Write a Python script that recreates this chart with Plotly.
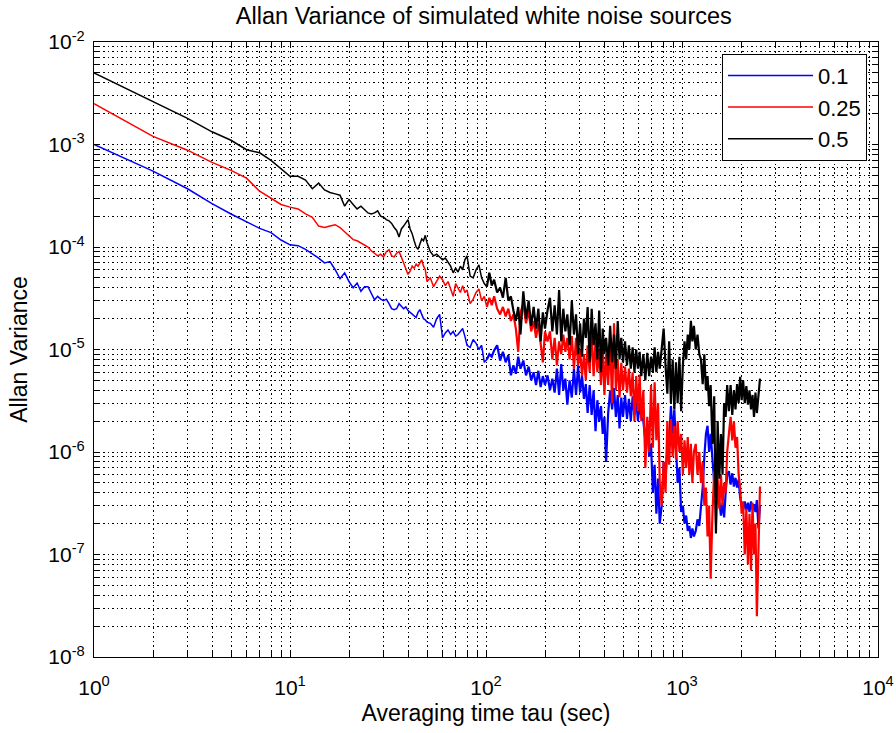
import plotly.graph_objects as go

# Averaging times (s) shared by all three runs
tau = [
    1, 2, 3, 4, 5, 6, 7, 8, 9, 10, 11, 12, 13, 14, 15, 16, 17, 18, 19, 20,
    21, 22, 23, 24, 25, 26, 27, 28, 29,
    30, 31, 32, 33, 34, 35, 36, 37, 38, 39, 40, 41, 42, 43, 44, 45, 46, 47, 48, 49, 50,
    52, 54, 56, 58, 60, 62, 64, 66, 68, 70, 72, 74, 76, 78, 80,
    83, 86, 89, 92, 95, 98, 101, 104, 107, 110,
    114, 118, 122, 126, 130, 134, 138, 142, 146, 150,
    155, 160, 165, 170, 175, 180, 185, 190, 195, 200,
    206, 212, 218, 224, 230, 236, 242, 248, 254, 260,
    267, 274, 281, 288, 295, 302, 309, 316, 323, 330,
    338, 346, 354, 362, 370, 378, 386, 394, 402, 410,
    420, 430, 440, 450, 460, 470, 480, 490, 500,
    512, 524, 536, 548, 560, 572, 584, 596, 608, 620,
    635, 650, 665, 680, 695, 710, 725, 740, 755, 770,
    788, 806, 824, 842, 860, 878, 896, 914, 932, 950,
    970, 990, 1010, 1030, 1050, 1070, 1090, 1110, 1130, 1150,
    1175, 1200, 1225, 1250, 1275, 1300, 1325, 1350, 1375, 1400,
    1430, 1460, 1490, 1520, 1550, 1580, 1610, 1640, 1670, 1700,
    1735, 1770, 1805, 1840, 1875, 1910, 1945, 1980, 2015, 2050,
    2090, 2130, 2170, 2210, 2250, 2290, 2330, 2370, 2410, 2455, 2500,
]

# Allan variance, noise level 0.1
avar_01 = [
    1.0e-3, 5.5e-4, 3.7e-4, 2.65e-4, 2.1e-4, 1.77e-4, 1.52e-4, 1.38e-4, 1.17e-4, 1.05e-4,
    1.03e-4, 9.5e-5, 8.6e-5, 7.8e-5, 7.0e-5, 7.2e-5, 6.0e-5, 4.9e-5, 5.6e-5, 4.6e-5,
    4.0e-5, 4.45e-5, 3.7e-5, 4.1e-5, 4.1e-5, 3.5e-5, 3.05e-5, 3.3e-5, 3.1e-5,
    3.0e-5, 3.1e-5, 2.8e-5, 2.5e-5, 2.45e-5, 2.5e-5, 2.8e-5, 2.65e-5, 2.5e-5, 2.6e-5,
    2.4e-5, 2.3e-5, 2.2e-5, 2.1e-5, 2.05e-5, 2.3e-5, 2.45e-5, 2.2e-5, 2.0e-5, 1.95e-5, 1.85e-5,
    1.8e-5, 1.65e-5, 2.0e-5, 2.2e-5, 1.3e-5, 1.45e-5, 1.55e-5, 1.4e-5, 1.5e-5, 1.35e-5,
    1.4e-5, 1.5e-5, 1.6e-5, 1.35e-5, 1.1e-5,
    1.05e-5, 1.25e-5, 1.15e-5, 1.0e-5, 1.1e-5, 7.5e-6, 8.0e-6, 9.0e-6, 8.5e-6, 9.8e-6,
    1.1e-5, 7.8e-6, 9.5e-6, 7.5e-6, 8.8e-6, 5.6e-6, 7.0e-6, 5.8e-6, 8.5e-6, 6.5e-6,
    7.8e-6, 5.6e-6, 6.8e-6, 5.0e-6, 6.0e-6, 4.5e-6, 6.2e-6, 4.3e-6, 5.5e-6, 4.5e-6,
    5.6e-6, 4.0e-6, 5.2e-6, 3.8e-6, 6.5e-6, 3.6e-6, 7.2e-6, 4.0e-6, 5.2e-6, 2.9e-6,
    5.0e-6, 3.4e-6, 6.5e-6, 3.6e-6, 7.0e-6, 3.8e-6, 5.6e-6, 3.3e-6, 4.6e-6, 2.4e-6,
    4.5e-6, 2.3e-6, 4.0e-6, 1.6e-6, 3.2e-6, 2.0e-6, 2.8e-6, 1.5e-6, 2.2e-6, 8.0e-7,
    2.4e-6, 4.0e-6, 2.6e-6, 4.2e-6, 2.2e-6, 3.6e-6, 1.7e-6, 3.4e-6, 2.2e-6,
    3.6e-6, 2.1e-6, 3.3e-6, 2.0e-6, 3.5e-6, 2.3e-6, 3.2e-6, 2.0e-6, 3.0e-6, 2.2e-6,
    2.0e-6, 1.3e-6, 1.9e-6, 9.0e-7, 1.2e-6, 4.0e-7, 7.5e-7, 2.5e-7, 5.5e-7, 2.0e-7,
    3.0e-7, 8.0e-7, 5.5e-7, 1.1e-6, 1.3e-6, 2.8e-6, 1.5e-6, 2.6e-6, 9.0e-7, 5.0e-7,
    7.0e-7, 2.6e-7, 3.0e-7, 2.0e-7, 2.4e-7, 1.7e-7, 1.9e-7, 1.45e-7, 1.8e-7, 1.5e-7,
    1.7e-7, 2.2e-7, 1.9e-7, 2.8e-7, 4.5e-7, 9.0e-7, 1.5e-6, 1.8e-6, 1.0e-6, 1.5e-6,
    8.0e-7, 5.0e-7, 6.5e-7, 4.5e-7, 3.5e-7, 2.4e-7, 3.2e-7, 2.3e-7, 4.0e-7, 6.0e-7,
    6.5e-7, 4.8e-7, 6.2e-7, 4.6e-7, 5.6e-7, 4.5e-7, 5.4e-7, 3.6e-7, 3.0e-7, 2.7e-7,
    3.3e-7, 2.7e-7, 3.2e-7, 2.6e-7, 3.3e-7, 2.7e-7, 3.1e-7, 2.6e-7, 3.4e-7, 1.8e-7, 3.0e-7,
]

# Allan variance, noise level 0.25
avar_025 = [
    2.5e-3, 1.2e-3, 8.8e-4, 6.7e-4, 5.6e-4, 4.7e-4, 3.5e-4, 3.0e-4, 2.6e-4, 2.45e-4,
    2.35e-4, 2.1e-4, 1.95e-4, 1.6e-4, 1.55e-4, 1.6e-4, 1.65e-4, 1.55e-4, 1.4e-4, 1.27e-4,
    1.18e-4, 1.15e-4, 1.1e-4, 1.05e-4, 1.0e-4, 9.2e-5, 8.6e-5, 8.2e-5, 8.5e-5,
    8.0e-5, 9.0e-5, 9.4e-5, 8.2e-5, 8.0e-5, 8.7e-5, 9.0e-5, 8.0e-5, 7.0e-5, 6.0e-5,
    5.4e-5, 5.8e-5, 6.5e-5, 6.2e-5, 6.8e-5, 6.5e-5, 7.0e-5, 7.5e-5, 6.5e-5, 6.0e-5, 4.6e-5,
    5.0e-5, 4.1e-5, 4.6e-5, 5.2e-5, 4.8e-5, 4.2e-5, 4.6e-5, 3.9e-5, 3.3e-5, 4.4e-5,
    4.0e-5, 3.6e-5, 4.2e-5, 3.6e-5, 3.8e-5,
    2.8e-5, 3.1e-5, 3.6e-5, 3.9e-5, 3.0e-5, 3.3e-5, 2.6e-5, 3.2e-5, 2.7e-5, 3.3e-5,
    2.5e-5, 2.2e-5, 2.6e-5, 2.1e-5, 2.5e-5, 1.9e-5, 2.2e-5, 1.6e-5, 9.5e-6, 2.3e-5,
    2.8e-5, 1.8e-5, 2.4e-5, 1.5e-5, 1.9e-5, 1.3e-5, 1.8e-5, 1.1e-5, 7.5e-6, 1.5e-5,
    1.2e-5, 1.5e-5, 8.0e-6, 1.3e-5, 7.0e-6, 1.2e-5, 9.0e-6, 1.4e-5, 9.5e-6, 1.3e-5,
    8.0e-6, 1.35e-5, 6.5e-6, 1.3e-5, 7.0e-6, 1.0e-5, 5.5e-6, 9.0e-6, 5.0e-6, 1.1e-5,
    6.0e-6, 1.5e-5, 5.5e-6, 1.2e-5, 6.0e-6, 1.0e-5, 4.5e-6, 1.05e-5, 3.6e-6, 9.0e-6,
    4.5e-6, 1.2e-5, 3.0e-6, 1.8e-5, 4.0e-6, 8.0e-6, 3.4e-6, 7.4e-6, 4.0e-6,
    6.8e-6, 3.8e-6, 6.5e-6, 3.5e-6, 6.0e-6, 2.0e-6, 5.5e-6, 2.5e-6, 5.7e-6, 2.0e-6,
    4.0e-6, 7.0e-7, 2.2e-6, 1.0e-6, 4.5e-6, 1.1e-6, 4.8e-6, 1.3e-6, 3.0e-6, 5.0e-7,
    3.0e-7, 8.0e-7, 4.0e-7, 2.0e-6, 7.5e-7, 2.1e-6, 9.0e-7, 1.8e-6, 8.5e-7, 2.0e-6,
    1.0e-6, 1.5e-6, 6.0e-7, 1.3e-6, 7.0e-7, 1.4e-6, 6.0e-7, 1.2e-6, 5.0e-7, 1.0e-6,
    1.2e-6, 6.0e-7, 1.0e-6, 5.0e-7, 8.0e-7, 3.0e-7, 4.5e-7, 1.5e-7, 3.0e-7, 5.8e-8,
    2.5e-7, 6.5e-7, 2.0e-7, 5.5e-7, 2.8e-7, 6.0e-7, 3.0e-7, 5.0e-7, 4.0e-7, 1.0e-6,
    1.5e-6, 2.2e-6, 1.3e-6, 2.0e-6, 1.1e-6, 1.4e-6, 6.0e-7, 4.5e-7, 2.5e-7, 3.3e-7,
    1.0e-7, 2.8e-7, 8.0e-8, 2.5e-7, 7.0e-8, 3.2e-7, 1.0e-7, 2.0e-7, 2.5e-8, 1.2e-7, 4.6e-7,
]

# Allan variance, noise level 0.5
avar_05 = [
    5.0e-3, 2.6e-3, 1.8e-3, 1.33e-3, 1.1e-3, 8.9e-4, 8.3e-4, 7.0e-4, 5.8e-4, 4.9e-4,
    4.9e-4, 4.5e-4, 3.7e-4, 4.2e-4, 3.6e-4, 3.4e-4, 3.3e-4, 3.2e-4, 2.5e-4, 2.9e-4,
    2.6e-4, 2.35e-4, 2.5e-4, 2.3e-4, 2.15e-4, 2.1e-4, 2.15e-4, 2.25e-4, 2.0e-4,
    1.95e-4, 1.85e-4, 1.8e-4, 1.7e-4, 1.55e-4, 1.45e-4, 1.25e-4, 1.5e-4, 1.6e-4, 1.75e-4,
    1.85e-4, 1.5e-4, 1.35e-4, 1.15e-4, 1.0e-4, 9.5e-5, 1.1e-4, 1.2e-4, 1.15e-4, 1.3e-4, 1.1e-4,
    9.0e-5, 8.2e-5, 8.5e-5, 8.0e-5, 7.5e-5, 7.8e-5, 7.2e-5, 6.5e-5, 5.6e-5, 6.2e-5,
    5.7e-5, 6.5e-5, 6.0e-5, 7.5e-5, 8.2e-5,
    5.2e-5, 5.0e-5, 6.0e-5, 6.7e-5, 5.0e-5, 4.4e-5, 4.1e-5, 5.6e-5, 4.2e-5, 4.8e-5,
    3.6e-5, 4.0e-5, 3.2e-5, 5.0e-5, 3.0e-5, 3.3e-5, 2.4e-5, 1.9e-5, 2.6e-5, 1.4e-5,
    3.7e-5, 2.0e-5, 3.0e-5, 1.7e-5, 2.6e-5, 1.6e-5, 2.5e-5, 1.2e-5, 2.3e-5, 1.6e-5,
    2.4e-5, 3.2e-5, 1.5e-5, 2.7e-5, 1.4e-5, 3.8e-5, 1.2e-5, 2.5e-5, 1.5e-5, 2.2e-5,
    1.1e-5, 3.0e-5, 1.4e-5, 2.2e-5, 9.0e-6, 1.8e-5, 8.5e-6, 2.0e-5, 1.3e-5, 2.6e-5,
    7.5e-6, 2.5e-5, 1.1e-5, 1.8e-5, 8.0e-6, 2.4e-5, 6.0e-6, 1.6e-5, 9.0e-6, 1.3e-5,
    7.0e-6, 1.7e-5, 7.5e-6, 1.4e-5, 6.5e-6, 1.9e-5, 8.0e-6, 1.3e-5, 7.5e-6,
    1.2e-5, 7.0e-6, 1.1e-5, 6.5e-6, 1.05e-5, 6.0e-6, 1.0e-5, 6.5e-6, 9.5e-6, 5.5e-6,
    9.0e-6, 5.0e-6, 9.3e-6, 5.5e-6, 8.5e-6, 6.0e-6, 1.05e-5, 6.0e-6, 9.5e-6, 6.5e-6,
    1.0e-5, 1.6e-5, 7.0e-6, 3.7e-6, 1.2e-5, 3.0e-6, 8.0e-6, 2.6e-6, 7.5e-6, 3.0e-6,
    8.5e-6, 2.5e-6, 7.0e-6, 1.2e-5, 8.0e-6, 1.4e-5, 1.0e-5, 1.9e-5, 1.2e-5, 1.7e-5,
    1.0e-5, 1.4e-5, 9.0e-6, 8.0e-6, 4.6e-6, 9.0e-6, 4.0e-6, 5.5e-6, 2.8e-6, 4.5e-6,
    1.2e-6, 3.5e-6, 1.6e-7, 2.0e-6, 5.5e-7, 1.5e-6, 6.0e-7, 3.0e-6, 2.2e-6, 4.5e-6,
    2.5e-6, 4.5e-6, 2.3e-6, 4.0e-6, 2.6e-6, 4.6e-6, 3.0e-6, 5.4e-6, 3.2e-6, 5.0e-6,
    3.0e-6, 4.4e-6, 2.9e-6, 4.0e-6, 2.6e-6, 3.6e-6, 2.2e-6, 3.8e-6, 2.4e-6, 3.3e-6, 5.2e-6,
]

series_names = ["0.1", "0.25", "0.5"]
series_colors = ["#0000ff", "#ff0000", "#000000"]

# Decade tick labels
x_decades = [1, 10, 100, 1000, 10000]
x_decade_labels = ["10<sup>0</sup>", "10<sup>1</sup>", "10<sup>2</sup>",
                   "10<sup>3</sup>", "10<sup>4</sup>"]
y_decades = [1e-8, 1e-7, 1e-6, 1e-5, 1e-4, 1e-3, 1e-2]
y_decade_labels = ["10<sup>-8</sup>", "10<sup>-7</sup>", "10<sup>-6</sup>",
                   "10<sup>-5</sup>", "10<sup>-4</sup>", "10<sup>-3</sup>",
                   "10<sup>-2</sup>"]

# Averaging time beyond which the curves are drawn as a dense noisy band
DENSE_FROM = 100


def log_ticks(decades, labels):
    """Ticks at 1..9 x each decade; only the decades carry a label."""
    vals, texts = [], []
    for i, (d, lab) in enumerate(zip(decades, labels)):
        vals.append(d)
        texts.append(lab)
        if i < len(decades) - 1:
            for k in range(2, 10):
                vals.append(k * d)
                texts.append("")
    return vals, texts


xt_vals, xt_text = log_ticks(x_decades, x_decade_labels)
yt_vals, yt_text = log_ticks(y_decades, y_decade_labels)

FONT = "Liberation Sans, Arial, sans-serif"

split = next(i for i, t in enumerate(tau) if t >= DENSE_FROM)

fig = go.Figure()
for name, color, yv in zip(series_names, series_colors, [avar_01, avar_025, avar_05]):
    # low-tau part: thin smooth line
    fig.add_trace(go.Scatter(
        x=tau[:split + 1], y=yv[:split + 1], mode="lines", name=name,
        legendgroup=name, line=dict(color=color, width=1.5),
    ))
    # high-tau part: same series, heavier stroke for the dense scatter
    fig.add_trace(go.Scatter(
        x=tau[split:], y=yv[split:], mode="lines", name=name,
        legendgroup=name, showlegend=False, line=dict(color=color, width=2.2),
    ))

axis_common = dict(
    type="log",
    showline=True, linecolor="#000000", linewidth=1.2, mirror="allticks",
    ticks="inside", ticklen=6, tickcolor="#000000", tickwidth=1,
    showgrid=True, gridcolor="#000000", gridwidth=1, griddash="1.5px,3px",
    zeroline=False,
    tickfont=dict(family=FONT, size=21, color="#000000"),
    title_font=dict(family=FONT, size=23, color="#000000"),
)

fig.update_xaxes(
    **axis_common,
    range=[0, 4],
    tickmode="array", tickvals=xt_vals, ticktext=xt_text,
    ticklabelstandoff=12,
    title_text="Averaging time tau (sec)", title_standoff=6,
)
fig.update_yaxes(
    **axis_common,
    range=[-8, -2],
    tickmode="array", tickvals=yt_vals, ticktext=yt_text,
    ticklabelstandoff=4,
    title_text="Allan Variance", title_standoff=14,
)

fig.update_layout(
    width=896, height=733,
    margin=dict(l=94, r=18, t=42, b=76, autoexpand=False),
    paper_bgcolor="#ffffff", plot_bgcolor="#ffffff",
    title=dict(
        text="Allan Variance of simulated white noise sources",
        x=0.54, xanchor="center", y=0.979, yanchor="middle",
        font=dict(family=FONT, size=23.5, color="#000000"),
    ),
    legend=dict(
        x=0.986, xanchor="right", y=0.981, yanchor="top",
        bgcolor="#ffffff", bordercolor="#000000", borderwidth=1,
        font=dict(family=FONT, size=22, color="#000000"),
        itemwidth=85, tracegroupgap=0,
    ),
    showlegend=True,
)

fig.write_html("out.html")
